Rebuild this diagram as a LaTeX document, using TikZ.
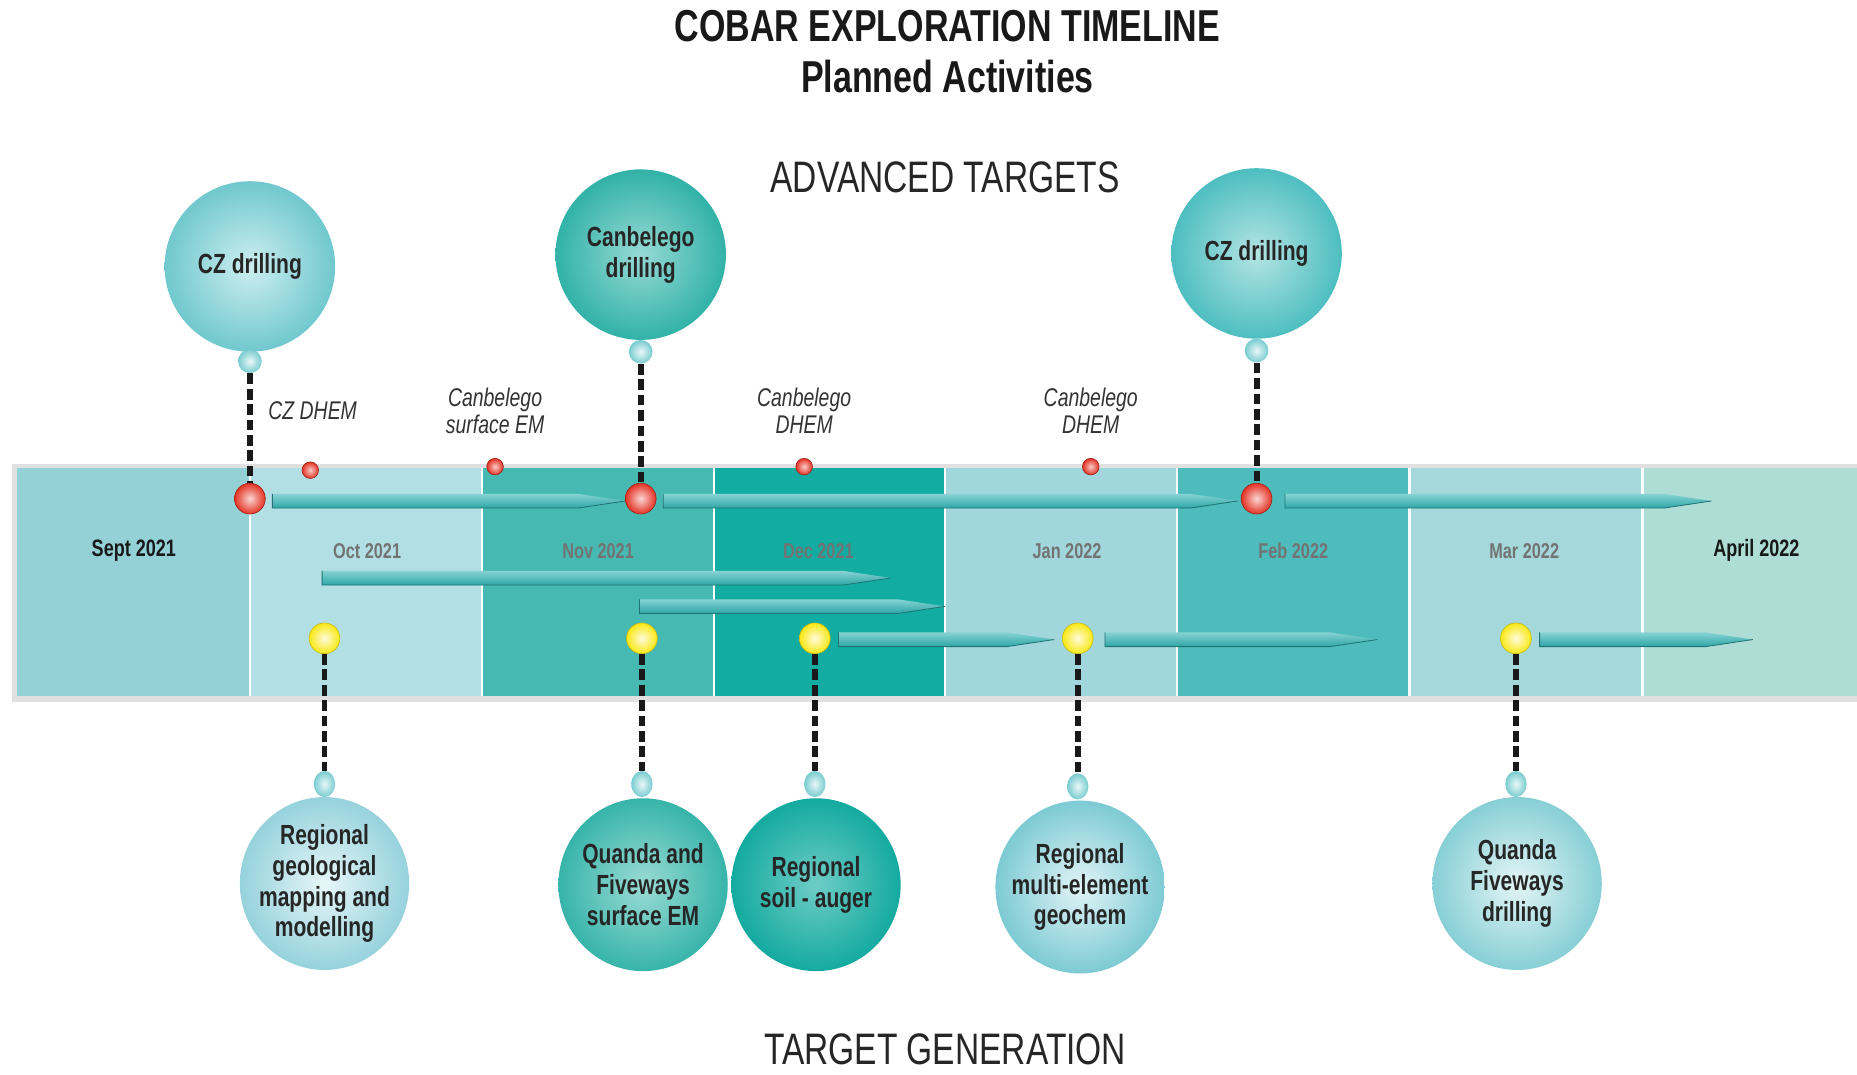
\documentclass[tikz,border=0pt]{standalone}
\usepackage{fontspec}
\setmainfont{Liberation Sans}[FakeStretch=0.76]
\usetikzlibrary{shapes.geometric}

\definecolor{csep}{RGB}{148,209,214}
\definecolor{coct}{RGB}{178,223,227}
\definecolor{cnov}{RGB}{70,186,178}
\definecolor{cdec}{RGB}{18,172,162}
\definecolor{cjan}{RGB}{160,214,220}
\definecolor{cfeb}{RGB}{78,188,188}
\definecolor{cmar}{RGB}{164,216,218}
\definecolor{capr}{RGB}{174,221,214}
\definecolor{barhi}{RGB}{135,210,212}
\definecolor{barlo}{RGB}{45,166,166}
\definecolor{dotred}{RGB}{228,50,35}
\definecolor{dotyel}{RGB}{250,232,20}
\definecolor{knobc}{RGB}{120,204,208}

\newcommand\tlbar[3]{%
  \shade[top color=barhi, bottom color=barlo] (#1,#3+6) -- (#2-40,#3+6) -- (#2,#3) -- (#2-40,#3-6) -- (#1,#3-6) -- cycle;
  \draw[barlo!70!black, line width=0.4pt] (#1,#3+6) -- (#1,#3-6) -- (#2-40,#3-6) -- (#2,#3);}

\begin{document}
\begin{tikzpicture}[x=0.02cm, y=0.02cm,
    title/.style={font=\fontsize{21.5}{24}\selectfont\bfseries, text=black!90},
    head/.style={font=\fontsize{21.2}{24}\selectfont, text=black!85},
    month/.style={font=\fontsize{10.3}{12}\selectfont\bfseries, text=black!55},
    note/.style={align=center, font=\fontsize{12.3}{13.1}\selectfont\itshape, text=black!80},
    topball/.style={circle, minimum size=2.88cm, inner sep=-1.5cm, align=center,
      font=\fontsize{13.3}{14.8}\selectfont\bfseries, text=black!85},
    lowball/.style={ellipse, minimum width=2.86cm, minimum height=2.92cm, inner sep=-1.5cm, align=center,
      font=\fontsize{13.3}{14.8}\selectfont\bfseries, text=black!85},
    knob/.style={circle, minimum size=0.4cm, inner sep=0pt, inner color=white!85!knobc, outer color=knobc},
    lowknob/.style={ellipse, minimum width=0.36cm, minimum height=0.44cm, inner sep=0pt, inner color=white!85!knobc, outer color=knobc},
    bigdot/.style={circle, minimum size=0.52cm, inner sep=0pt, inner color=white!80!dotred, outer color=dotred, draw=dotred!70!black, line width=0.3pt},
    smalldot/.style={circle, minimum size=0.28cm, inner sep=0pt, inner color=white!75!dotred, outer color=dotred, draw=dotred!70!black, line width=0.3pt},
    yeldot/.style={circle, minimum size=0.52cm, inner sep=0pt, inner color=white!85!dotyel, outer color=dotyel, draw=dotyel!80!black, line width=0.3pt},
    stem/.style={line width=0.1cm, dash pattern=on 0.18cm off 0.08cm, black!90}]
  \useasboundingbox (0,0) rectangle (1568,-907);

  \fill[black!12] (10,-392) rectangle (1568,-593);
  \fill[csep] (14,-395) rectangle (211,-588);
  \fill[coct] (211,-395) rectangle (407,-588);
  \fill[cnov] (407,-395) rectangle (603,-588);
  \fill[cdec] (603,-395) rectangle (798,-588);
  \fill[cjan] (798,-395) rectangle (994,-588);
  \fill[cfeb] (994,-395) rectangle (1190,-588);
  \fill[cmar] (1190,-395) rectangle (1387,-588);
  \fill[capr] (1387,-395) rectangle (1568,-588);
  \begin{scope}[white, line width=1.2pt]
    \draw (211,-395) -- (211,-588);
    \draw (407,-395) -- (407,-588);
    \draw (603,-395) -- (603,-588);
    \draw (798,-395) -- (798,-588);
    \draw (994,-395) -- (994,-588);
    \draw (1190,-395) -- (1190,-588);
    \draw (1387,-395) -- (1387,-588);
  \end{scope}

  \node[month, text=black!90, font=\fontsize{11.4}{12}\selectfont\bfseries] (sep) at (113,-465) {Sept 2021};
  \node[month] (oct) at (310,-465) {Oct 2021};
  \node[month] (nov) at (505,-465) {Nov 2021};
  \node[month] (dec) at (691,-465) {Dec 2021};
  \node[month] (jan) at (901,-465) {Jan 2022};
  \node[month] (feb) at (1092,-465) {Feb 2022};
  \node[month] (mar) at (1287,-465) {Mar 2022};
  \node[month, text=black!90, font=\fontsize{11.4}{12}\selectfont\bfseries] (apr) at (1483,-465) {April 2022};

  \tlbar{230}{528}{-423}
  \tlbar{560}{1045}{-423}
  \tlbar{1085}{1445}{-423}
  \tlbar{272}{752}{-488}
  \tlbar{540}{798}{-512}
  \tlbar{708}{890}{-540}
  \tlbar{933}{1163}{-540}
  \tlbar{1300}{1480}{-540}

  \node[title] (t1) at (800,-22) {COBAR EXPLORATION TIMELINE};
  \node[title] (t2) at (800,-65) {Planned Activities};
  \node[head] (adv) at (798,-150) {ADVANCED TARGETS};
  \node[head] (gen) at (798,-886) {TARGET GENERATION};

  \node[note] (dh1) at (264,-347) {CZ DHEM};
  \node[note] (em1) at (418,-347) {Canbelego\\surface EM};
  \node[note] (dh2) at (679,-347) {Canbelego\\DHEM};
  \node[note] (dh3) at (921,-347) {Canbelego\\DHEM};

  \node[smalldot] (s1) at (262,-397) {};
  \node[smalldot] (s2) at (418,-394) {};
  \node[smalldot] (s3) at (679,-394) {};
  \node[smalldot] (s4) at (921,-394) {};

  \node[bigdot] (r1) at (211,-421) {};
  \node[bigdot] (r2) at (541,-421) {};
  \node[bigdot] (r3) at (1061,-421) {};

  \node[yeldot] (y1) at (274,-539) {};
  \node[yeldot] (y2) at (542,-539) {};
  \node[yeldot] (y3) at (688,-539) {};
  \node[yeldot] (y4) at (910,-539) {};
  \node[yeldot] (y5) at (1280,-539) {};

  \node[topball, inner color={rgb,255:red,205;green,238;blue,240}, outer color={rgb,255:red,112;green,200;blue,206}] (cz1) at (211,-225) {CZ drilling};
  \node[topball, inner color={rgb,255:red,150;green,218;blue,212}, outer color={rgb,255:red,50;green,178;blue,168}] (cbd) at (541,-215) {Canbelego\\drilling};
  \node[topball, inner color={rgb,255:red,180;green,228;blue,228}, outer color={rgb,255:red,78;green,190;blue,192}] (cz2) at (1061,-214) {CZ drilling};
  \node[knob] (k1) at (211,-305) {};
  \node[knob] (k2) at (541,-297) {};
  \node[knob] (k3) at (1061,-296) {};

  \node[lowball, inner color={rgb,255:red,230;green,246;blue,248}, outer color={rgb,255:red,150;green,210;blue,220}] (geo) at (274,-746) {Regional\\geological\\mapping and\\modelling};
  \node[lowball, inner color={rgb,255:red,155;green,220;blue,212}, outer color={rgb,255:red,55;green,180;blue,170}] (qfem) at (543,-747) {Quanda and\\Fiveways\\surface EM};
  \node[lowball, inner color={rgb,255:red,110;green,205;blue,198}, outer color={rgb,255:red,20;green,170;blue,160}] (soil) at (689,-747) {Regional\\soil - auger};
  \node[lowball, inner color={rgb,255:red,225;green,244;blue,246}, outer color={rgb,255:red,125;green,202;blue,212}] (chem) at (912,-749) {Regional\\multi-element\\geochem};
  \node[lowball, inner color={rgb,255:red,228;green,245;blue,246}, outer color={rgb,255:red,135;green,207;blue,213}] (qfdr) at (1281,-746) {Quanda\\Fiveways\\drilling};
  \node[lowknob] (b1) at (274,-662) {};
  \node[lowknob] (b2) at (542,-662) {};
  \node[lowknob] (b3) at (688,-662) {};
  \node[lowknob] (b4) at (910,-664) {};
  \node[lowknob] (b5) at (1280,-662) {};

  \begin{scope}[stem]
    \draw (k1) -- (r1);
    \draw (k2) -- (r2);
    \draw (k3) -- (r3);
    \draw (y1) -- (b1);
    \draw (y2) -- (b2);
    \draw (y3) -- (b3);
    \draw (y4) -- (b4);
    \draw (y5) -- (b5);
  \end{scope}
\end{tikzpicture}
\end{document}
